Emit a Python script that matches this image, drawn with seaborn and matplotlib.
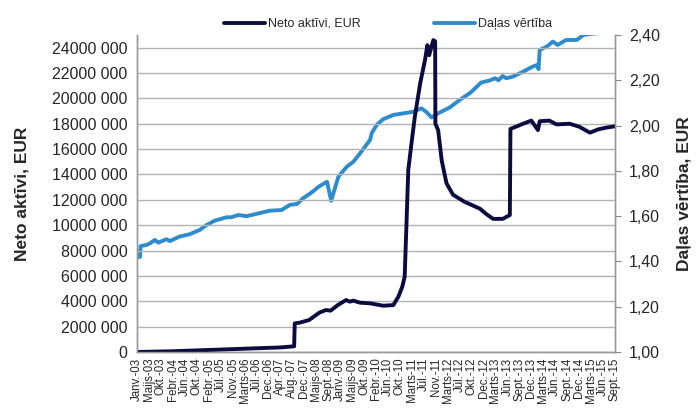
import matplotlib
matplotlib.use("Agg")
import matplotlib.pyplot as plt
from matplotlib.ticker import FuncFormatter, MultipleLocator
from matplotlib.lines import Line2D
import seaborn as sns
import pandas as pd

# x tick labels (category axis, one label per step)
tick_labels = ["Janv.-03", "Maijs-03", "Okt.-03", "Febr.-04", "Jūn.-04", "Okt.-04", "Febr.-05",
               "Jūl.-05", "Nov.-05", "Marts-06", "Jūl.-06", "Dec.-06", "Apr.-07", "Aug.-07",
               "Dec.-07", "Maijs-08", "Sept.-08", "Janv.-09", "Maijs-09", "Okt.-09", "Febr.-10",
               "Jūn.-10", "Okt.-10", "Marts-11", "Jūl.-11", "Nov.-11", "Marts-12", "Jūl.-12",
               "Okt.-12", "Dec.-12", "Marts-13", "Jūn.-13", "Sept.-13", "Dec.-13", "Marts-14",
               "Jūn.-14", "Sept.-14", "Dec.-14", "Marts-15", "Jūn.-15", "Sept.-15"]

# Neto aktīvi, EUR (position on category axis, value in EUR)
neto_pos = [0, 3, 6, 9, 12, 13.15, 13.2, 13.6, 14.4, 15.25, 15.8, 16.2, 16.8, 17.5, 17.8, 18.1,
            18.66, 19.5, 20.6, 21.45, 21.87, 22.2, 22.4, 22.55, 22.7, 22.97, 23.25, 23.7, 24.1,
            24.3, 24.45, 24.65, 24.8, 24.95, 24.97, 25.2, 25.5, 25.9, 26.45, 27.4, 28.7, 29.2,
            29.8, 30.6, 31.2, 31.25, 31.8, 32.3, 33.0, 33.55, 33.7, 34.5, 35.1, 36.2, 37.0,
            37.9, 38.6, 39.3, 40.0]
neto_val = [0, 60000, 160000, 260000, 360000, 450000, 2260000, 2310000, 2520000, 3100000,
            3310000, 3260000, 3700000, 4100000, 3970000, 4050000, 3890000, 3840000, 3650000,
            3700000, 4360000, 5150000, 5940000, 10100000, 14350000, 16460000, 18560000,
            21200000, 23030000, 24200000, 23400000, 24100000, 24600000, 24500000, 18000000,
            17500000, 15100000, 13300000, 12400000, 11850000, 11300000, 10900000, 10500000,
            10500000, 10800000, 17600000, 17800000, 18000000, 18250000, 17500000, 18200000,
            18250000, 17950000, 18000000, 17770000, 17300000, 17560000, 17700000, 17800000]

# Daļas vērtība (position on category axis, value in EUR)
dalas_pos = [0, 0.25, 0.3, 0.81, 1.08, 1.5, 1.78, 2.47, 2.75, 3.58, 4.4, 5.25, 5.8, 6.5, 7.5,
             7.9, 8.47, 9.17, 10.0, 11.1, 12.1, 12.8, 13.4, 13.9, 14.6, 15.2, 15.9, 16.25,
             16.85, 17.55, 18.1, 18.66, 19.5, 19.64, 20.06, 20.6, 21.45, 22.3, 23.1, 23.8,
             24.2, 24.65, 25.2, 26.2, 27.0, 27.9, 28.8, 29.5, 29.96, 30.25, 30.6, 30.9, 31.45,
             32.3, 33.1, 33.5, 33.6, 33.7, 34.3, 34.8, 35.2, 35.9, 36.8, 37.35, 38.0, 39.0, 40.0]
dalas_val = [1.421, 1.42, 1.468, 1.473, 1.48, 1.495, 1.483, 1.498, 1.49, 1.51, 1.52, 1.539,
             1.56, 1.58, 1.595, 1.595, 1.605, 1.60, 1.61, 1.624, 1.627, 1.65, 1.654, 1.679,
             1.704, 1.73, 1.752, 1.668, 1.774, 1.818, 1.84, 1.877, 1.936, 1.966, 2.003, 2.028,
             2.047, 2.054, 2.061, 2.076, 2.061, 2.036, 2.054, 2.081, 2.113, 2.145, 2.19, 2.199,
             2.209, 2.20, 2.219, 2.209, 2.216, 2.238, 2.26, 2.268, 2.249, 2.334, 2.349, 2.371,
             2.356, 2.378, 2.378, 2.40, 2.405, 2.41, 2.41]

neto_df = pd.DataFrame({"pos": neto_pos, "val": neto_val})
dalas_df = pd.DataFrame({"pos": dalas_pos, "val": dalas_val})

DARK = "#0b0b40"
BLUE = "#2e8bcc"
GRID = "#b3b3b3"
FONT = ["Liberation Sans", "DejaVu Sans"]

sns.set_theme(style="white")
plt.rcParams["font.family"] = FONT

fig = plt.figure(figsize=(6.98, 4.09), dpi=100)
ax = fig.add_axes([137 / 698, 1 - 352 / 409, (615 - 137) / 698, (352 - 35) / 409])
ax2 = ax.twinx()

# draw blue first on secondary axis, dark on primary on top
ax.set_zorder(ax2.get_zorder() + 1)
ax.patch.set_visible(False)

sns.lineplot(data=dalas_df, x="pos", y="val", ax=ax2, color=BLUE, lw=2.8, sort=False)
sns.lineplot(data=neto_df, x="pos", y="val", ax=ax, color=DARK, lw=2.8, sort=False)

ax.set_xlim(0, 40)
ax.set_ylim(0, 25000000)
ax2.set_ylim(1.0, 2.4)
ax.yaxis.set_major_locator(MultipleLocator(2000000))
ax2.yaxis.set_major_locator(MultipleLocator(0.2))

def left_fmt(v, p):
    v = int(round(v))
    if v == 0:
        return "0"
    return f"{v // 1000} {v % 1000:03d}"

ax.yaxis.set_major_formatter(FuncFormatter(left_fmt))
ax2.yaxis.set_major_formatter(FuncFormatter(lambda v, p: f"{v:.2f}".replace(".", ",")))

ax.set_xticks(range(len(tick_labels)))
ax.set_xticklabels(tick_labels, rotation=90, fontsize=8.3)
ax.tick_params(axis="x", length=3, width=0.8, color="#888888", pad=1)
ax.tick_params(axis="y", length=0, labelsize=11.5, pad=7)
ax2.tick_params(axis="y", length=4, width=0.8, color="#888888", labelsize=11.5, pad=6)

ax.grid(axis="y", color=GRID, lw=1)
ax.grid(axis="x", visible=False)
ax2.grid(False)

for a in (ax, ax2):
    for s in ["top"]:
        a.spines[s].set_visible(False)
    for s in ["left", "right", "bottom"]:
        a.spines[s].set_color("#999999")
        a.spines[s].set_linewidth(1)

ax.set_xlabel("")
ax.set_ylabel("Neto aktīvi, EUR", fontsize=12.5, fontweight="bold", labelpad=16)
ax2.set_ylabel("Daļas vērtība, EUR", fontsize=12.5, fontweight="bold", labelpad=12)

handles = [Line2D([], [], color=DARK, lw=2.8), Line2D([], [], color=BLUE, lw=2.8)]
fig.legend(handles, ["Neto aktīvi, EUR", "Daļas vērtība"], loc="center",
           bbox_to_anchor=(388 / 698, 1 - 24 / 409), ncol=2, frameon=False,
           fontsize=9, handlelength=3.3, handletextpad=0.25, columnspacing=5.8)

fig.savefig("out.png", dpi=100)
